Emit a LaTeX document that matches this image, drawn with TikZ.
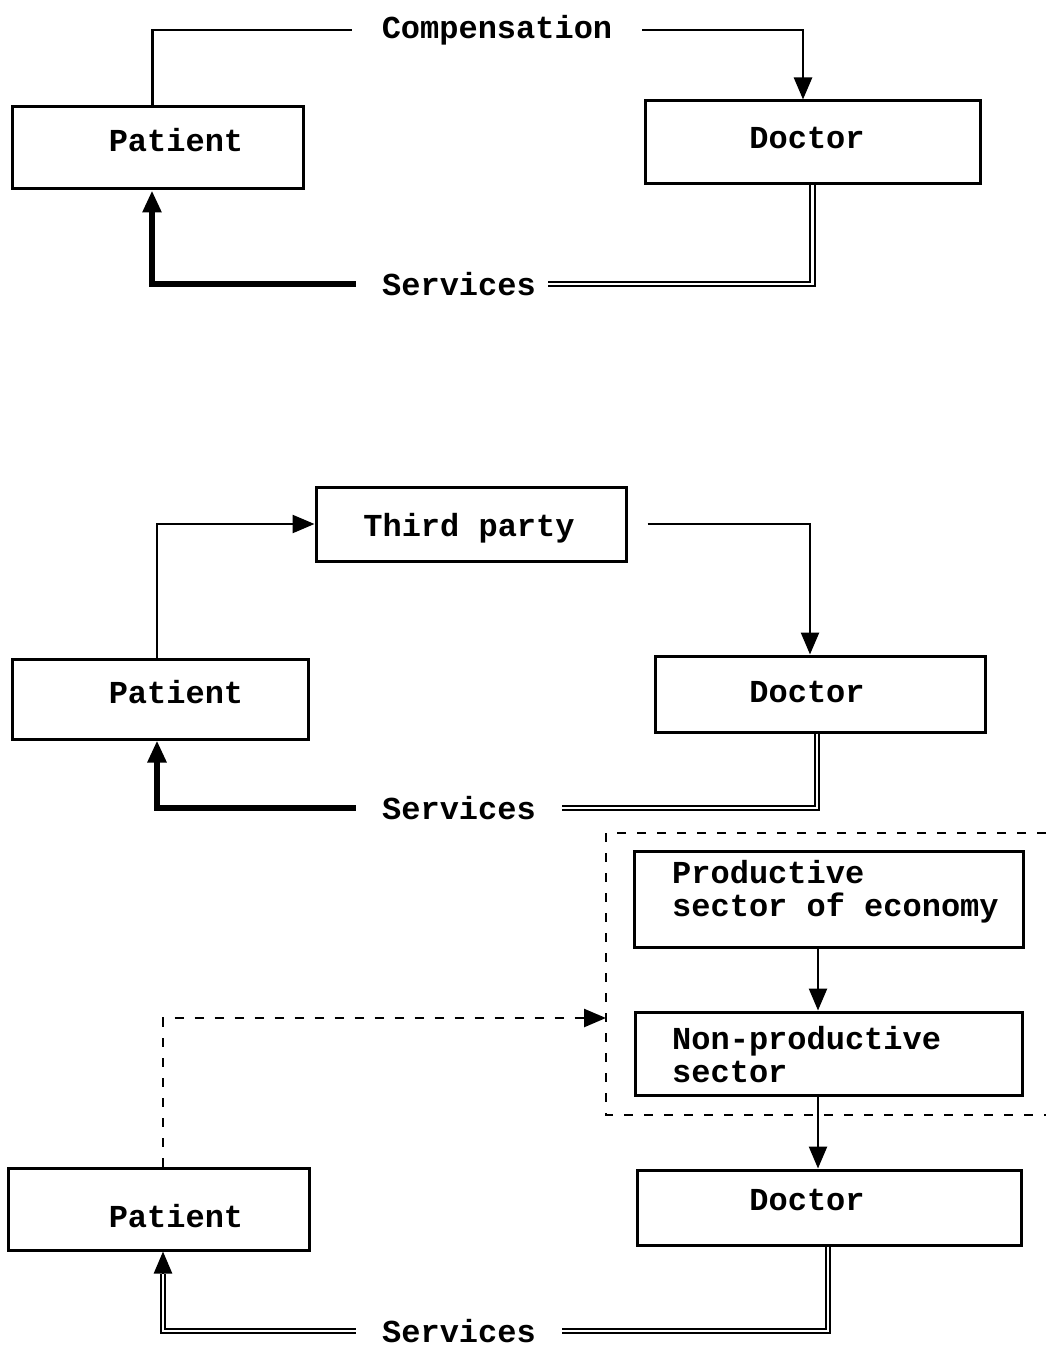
\documentclass[tikz,border=0pt]{standalone}
\usepackage{fontspec}
\setmonofont{Liberation Mono}
\usetikzlibrary{arrows.meta}
\tikzset{
  box/.style={draw, line width=3pt, inner sep=0pt},
  txt/.style={font=\ttfamily\bfseries\fontsize{32}{33}\selectfont, inner sep=0pt, align=left},
  flowlbl/.style={txt, inner xsep=26pt},
  money/.style={line width=2.5pt},
  svcthick/.style={line width=5.5pt},
  svcdouble/.style={double, line width=2pt, double distance=2.2pt},
  frame/.style={line width=2.5pt, dash pattern=on 9pt off 11pt},
  tip/.style={-{Triangle[length=22pt,width=18pt]}}
}
\begin{document}
\begin{tikzpicture}[x=1pt,y=-1pt]
\useasboundingbox (0,0) rectangle (1046,1348);

% direct payment
\node[box, minimum width=291pt, minimum height=82pt] (pat1) at (157.5,148) {};
\node[txt] (pat1txt) at (176,140) {Patient};
\node[box, minimum width=335pt, minimum height=83pt] (doc1) at (812.5,142.5) {};
\node[txt] (doc1txt) at (807,138) {Doctor};
\node[flowlbl, inner xsep=30pt] (comp1) at (497,30) {Compensation};
\node[flowlbl] (svc1) at (459,284) {Services};
\draw[money] ([xshift=-5pt]pat1.north) |- (comp1.west);
\draw[money, tip] (comp1.east) -| ([xshift=-9.5pt]doc1.north);
\draw[svcdouble] (doc1.south) |- ([xshift=-14pt]svc1.east);
\draw[svcthick, tip] (svc1.west) -| ([xshift=-5.5pt]pat1.south);

% third party payment
\node[box, minimum width=310pt, minimum height=74pt] (third) at (471,524) {};
\node[txt] (thirdtxt) at (469,528) {Third party};
\node[box, minimum width=296pt, minimum height=80pt] (pat2) at (160,699) {};
\node[txt] (pat2txt) at (176,692) {Patient};
\node[box, minimum width=330pt, minimum height=76pt] (doc2) at (820,694) {};
\node[txt] (doc2txt) at (807,692) {Doctor};
\node[flowlbl] (svc2) at (459,808) {Services};
\draw[money, tip] ([xshift=-3pt]pat2.north) |- (third.west);
\draw[money, tip] ([xshift=20pt]third.east) -| ([xshift=-10pt]doc2.north);
\draw[svcdouble] ([xshift=-3pt]doc2.south) |- (svc2.east);
\draw[svcthick, tip] (svc2.west) -| ([xshift=-3pt]pat2.south);

% state financing
\draw[frame] (1046,833) -| (606,1115) -- (1046,1115);
\coordinate (entry) at (606,1018);
\node[box, minimum width=389pt, minimum height=96pt] (prod) at (828.5,899) {};
\node[txt, anchor=west] (prodtxt) at (672,892) {Productive\\sector of economy};
\node[box, minimum width=387pt, minimum height=83pt] (nonprod) at (828.5,1053.5) {};
\node[txt, anchor=west] (nonprodtxt) at (672,1054.5) {Non-productive\\sector};
\node[box, minimum width=384pt, minimum height=75pt] (doc3) at (829,1207.5) {};
\node[txt] (doc3txt) at (807,1200) {Doctor};
\node[box, minimum width=301pt, minimum height=82pt] (pat3) at (158.5,1209) {};
\node[txt] (pat3txt) at (176,1216) {Patient};
\node[flowlbl] (svc3) at (459,1331) {Services};
\draw[money, tip] ([xshift=-10.5pt]prod.south) -- ([xshift=-10.5pt]prod.south |- nonprod.north);
\draw[money, tip] ([xshift=-10.5pt]nonprod.south) -- ([xshift=-10.5pt]nonprod.south |- doc3.north);
\draw[frame, tip] ([xshift=4.5pt]pat3.north) |- (entry);
\coordinate (pat3in) at ([xshift=4.5pt,yshift=-22pt]pat3.south);
\draw[svcdouble] ([xshift=-1pt]doc3.south) |- (svc3.east);
\draw[svcdouble] (svc3.west) -| (pat3in);
\draw[money, tip] (pat3in) -- ([xshift=4.5pt]pat3.south);
\end{tikzpicture}
\end{document}
